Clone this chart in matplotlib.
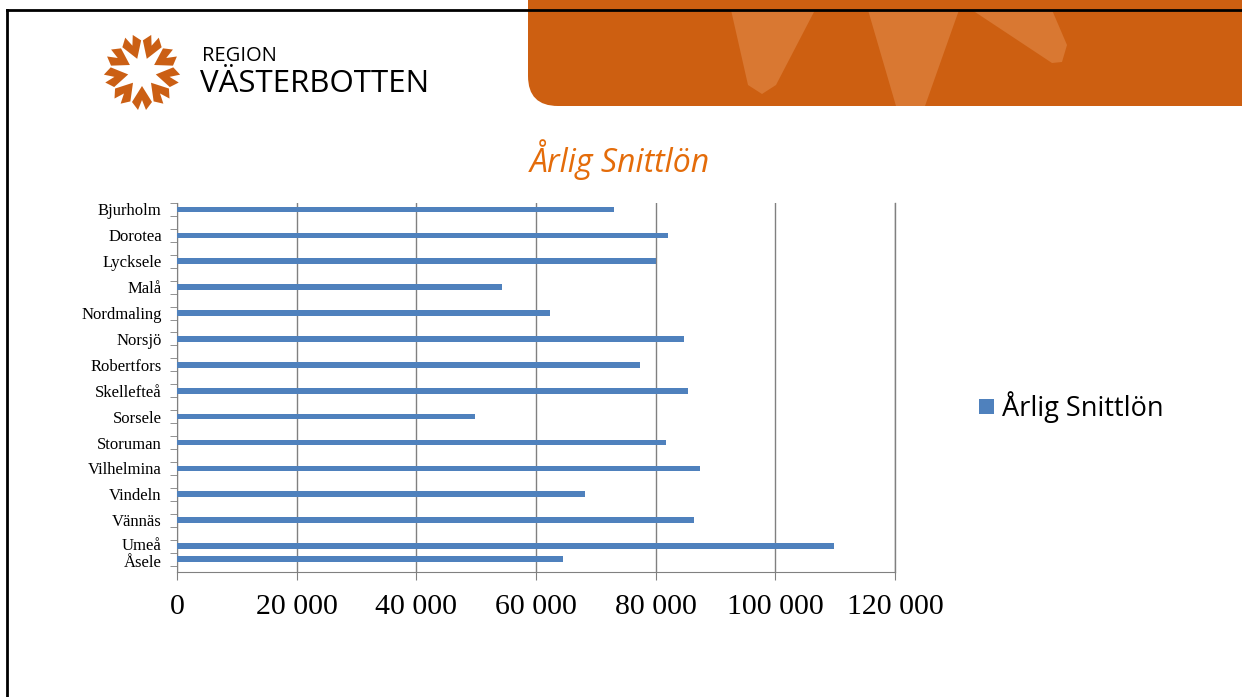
import numpy as np
import matplotlib.pyplot as plt
import matplotlib.transforms as mtransforms
from matplotlib.patches import Polygon, FancyBboxPatch, Rectangle

# data
kommuner = ["Bjurholm", "Dorotea", "Lycksele", "Malå", "Nordmaling", "Norsjö",
            "Robertfors", "Skellefteå", "Sorsele", "Storuman", "Vilhelmina",
            "Vindeln", "Vännäs", "Umeå", "Åsele"]
snittlon = [73000, 82000, 80000, 54300, 62300, 84700, 77400, 85400, 49800,
            81700, 87400, 68200, 86400, 109800, 64500]
xticks = [0, 20000, 40000, 60000, 80000, 100000, 120000]
xlabels = ["0", "20 000", "40 000", "60 000", "80 000", "100 000", "120 000"]

W, H = 1242, 697
orange = "#CD5F11"
bar_col = "#4F81BD"

fig = plt.figure(figsize=(W / 100, H / 100), dpi=100)

# slide decoration layer in pixel coords
bg = fig.add_axes([0, 0, 1, 1])
bg.set_xlim(0, W)
bg.set_ylim(H, 0)
bg.axis("off")

# banner top right
bg.add_patch(FancyBboxPatch((528, -60), 800, 166, boxstyle="round,pad=0,rounding_size=30",
                            fc=orange, ec="none"))
light = "#D97832"
bg.add_patch(Polygon([(731, 10), (815, 10), (776, 85), (762, 94), (748, 85)], fc=light, ec="none"))
bg.add_patch(Polygon([(868, 10), (959, 10), (925, 106), (896, 106)], fc=light, ec="none"))
bg.add_patch(Polygon([(972, 10), (1052, 10), (1067, 45), (1062, 62), (1052, 63)], fc=light, ec="none"))

# slide border
bg.plot([7, 7], [10, H], color="black", lw=2)
bg.plot([7, W], [10, 10], color="black", lw=2)

# logo
cx, cy = 142, 72
for k in range(9):
    a = np.deg2rad(k * 40 + 10)
    u = np.array([np.cos(a), np.sin(a)])
    v = np.array([-u[1], u[0]])
    p0 = np.array([cx, cy])
    pts = [p0 + 14 * u, p0 + 30 * u + 10 * v, p0 + 38 * u + 4 * v,
           p0 + 28 * u, p0 + 38 * u - 4 * v, p0 + 30 * u - 10 * v]
    bg.add_patch(Polygon(pts, fc="#CB5F14", ec="none"))
bg.text(202, 56, "REGION", fontsize=14.5, family="Open Sans", va="center", ha="left")
bg.text(200, 84, "VÄSTERBOTTEN", fontsize=22.5, family="Open Sans", va="center", ha="left")

# title
bg.text(620, 160, "Årlig Snittlön", fontsize=23, style="italic", color="#E46C0A",
        family="Open Sans", ha="center", va="center")

# legend
bg.add_patch(Rectangle((979, 399), 15, 15, fc=bar_col, ec="none"))
bg.text(1002, 407, "Årlig Snittlön", fontsize=19.5, family="Open Sans", ha="left", va="center")

# chart
ax = fig.add_axes([177 / W, 1 - 572 / H, 718 / W, 369 / H])
pos = list(range(len(kommuner) - 1)) + [len(kommuner) - 1.5]
ax.barh(pos, snittlon, height=0.22, color=bar_col, zorder=3)
ax.set_xlim(0, 120000)
ax.set_ylim(14.0, -0.19)
ax.set_xticks(xticks)
ax.set_xticklabels(xlabels, fontsize=21.5, family="Liberation Serif")
ax.set_yticks(pos)
ax.set_yticklabels(kommuner, fontsize=12, family="Liberation Serif")
ax.tick_params(axis="y", length=0, pad=11)
ax.set_yticks(np.arange(-0.25, 14.0, 0.5), minor=True)
ax.tick_params(axis="y", which="minor", length=5, color="#808080")
ax.tick_params(axis="x", length=6, color="#808080", pad=10)
ax.grid(axis="x", color="#808080", lw=1, zorder=0)
ax.axvline(120000, color="#808080", lw=1, clip_on=False, zorder=0)
for s in ["top", "right"]:
    ax.spines[s].set_visible(False)
for s in ["left", "bottom"]:
    ax.spines[s].set_color("#808080")

# the two last labels sit very close, nudge them apart a little
ylabs = ax.get_yticklabels()
ylabs[-2].set_transform(ylabs[-2].get_transform() +
                        mtransforms.ScaledTranslation(0, 2 / 100, fig.dpi_scale_trans))
ylabs[-1].set_transform(ylabs[-1].get_transform() +
                        mtransforms.ScaledTranslation(0, -2 / 100, fig.dpi_scale_trans))

fig.savefig("out.png", dpi=100)
